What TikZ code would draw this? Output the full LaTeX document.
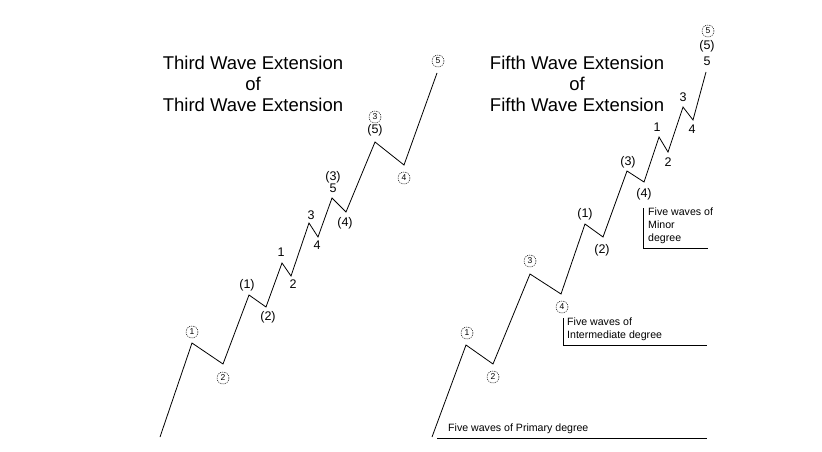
\documentclass[tikz,border=0pt]{standalone}
\usepackage{fontspec}
\setmainfont{Liberation Sans}

\begin{document}
\begin{tikzpicture}[x=1pt, y=-1pt,
  wave/.style={line width=0.8pt},
  num/.style={font=\fontsize{12.5}{13}\selectfont, inner sep=0pt},
  circnum/.style={circle, draw, dash pattern=on 1pt off 0.9pt, line width=0.5pt,
    minimum size=12pt, inner sep=0pt, font=\fontsize{8.5}{9}\selectfont},
  heading/.style={font=\fontsize{18.5}{21}\selectfont, align=center, inner sep=0pt},
  note/.style={font=\fontsize{10.6}{12.8}\selectfont, align=left, inner sep=0pt, anchor=north west},
  bracket/.style={line width=0.8pt}]
  \useasboundingbox[fill=white] (0,0) rectangle (822,452);

  % Titles
  \node[heading] (ttlL) at (253,84) {Third Wave Extension\\of\\Third Wave Extension};
  \node[heading] (ttlR) at (577,84) {Fifth Wave Extension\\of\\Fifth Wave Extension};

  % Left wave: third of third extension
  \coordinate (a0) at (160,437);
  \coordinate (a1) at (192,343);
  \coordinate (a2) at (223,364);
  \coordinate (b1) at (249,295);
  \coordinate (b2) at (266,307);
  \coordinate (c1) at (282,263);
  \coordinate (c2) at (291,276);
  \coordinate (c3) at (309,223);
  \coordinate (c4) at (318,237);
  \coordinate (c5) at (332,198);
  \coordinate (b4) at (346,212);
  \coordinate (b5) at (375,142);
  \coordinate (a4) at (404,165);
  \coordinate (a5) at (437,73);
  \draw[wave] (a0) -- (a1) -- (a2) -- (b1) -- (b2) -- (c1) -- (c2) -- (c3)
    -- (c4) -- (c5) -- (b4) -- (b5) -- (a4) -- (a5);

  % Left wave labels
  \node[circnum] (la1) at (192,332) {1};
  \node[circnum] (la2) at (223,378) {2};
  \node[num] (lb1) at (247,285) {(1)};
  \node[num] (lb2) at (268,317) {(2)};
  \node[num] (lc1) at (281,252) {1};
  \node[num] (lc2) at (293,284) {2};
  \node[num] (lc3) at (311,215) {3};
  \node[num] (lc4) at (317,245) {4};
  \node[num] (lc5) at (333,188) {5};
  \node[num] (lb3) at (333,177) {(3)};
  \node[num] (lb4) at (345,223) {(4)};
  \node[num] (lb5) at (375,130) {(5)};
  \node[circnum] (la3) at (375,117) {3};
  \node[circnum] (la4) at (404,178) {4};
  \node[circnum] (la5) at (438,61) {5};

  % Right wave: fifth of fifth extension
  \coordinate (d0) at (432,437);
  \coordinate (d1) at (466,345);
  \coordinate (d2) at (493,364);
  \coordinate (d3) at (530,274);
  \coordinate (d4) at (561,294);
  \coordinate (e1) at (585,224);
  \coordinate (e2) at (603,237);
  \coordinate (e3) at (627,171);
  \coordinate (e4) at (644,182);
  \coordinate (f1) at (659,137);
  \coordinate (f2) at (668,152);
  \coordinate (f3) at (683,107);
  \coordinate (f4) at (693,120);
  \coordinate (f5) at (706,72);
  \draw[wave] (d0) -- (d1) -- (d2) -- (d3) -- (d4) -- (e1) -- (e2) -- (e3)
    -- (e4) -- (f1) -- (f2) -- (f3) -- (f4) -- (f5);

  % Right wave labels
  \node[circnum] (rd1) at (467,333) {1};
  \node[circnum] (rd2) at (493,377) {2};
  \node[circnum] (rd3) at (530,261) {3};
  \node[circnum] (rd4) at (562,307) {4};
  \node[num] (re1) at (585,214) {(1)};
  \node[num] (re2) at (602,250) {(2)};
  \node[num] (re3) at (628,162) {(3)};
  \node[num] (re4) at (644,194) {(4)};
  \node[num] (rf1) at (657,127) {1};
  \node[num] (rf2) at (668,162) {2};
  \node[num] (rf3) at (683,97) {3};
  \node[num] (rf4) at (692,129) {4};
  \node[num] (rf5) at (707,61) {5};
  \node[num] (re5) at (707,46) {(5)};
  \node[circnum] (rd5) at (708,31) {5};

  % Degree brackets
  \draw[bracket] (437,438) -- (707,438);
  \node[note] (prim) at (448,424) {Five waves of Primary degree};
  \draw[bracket] (563,318) |- (707,345);
  \node[note] (inter) at (567,318) {Five waves of\\Intermediate degree};
  \draw[bracket] (643,208) |- (708,248);
  \node[note] (minor) at (648,208) {Five waves of\\Minor\\degree};
\end{tikzpicture}
\end{document}
